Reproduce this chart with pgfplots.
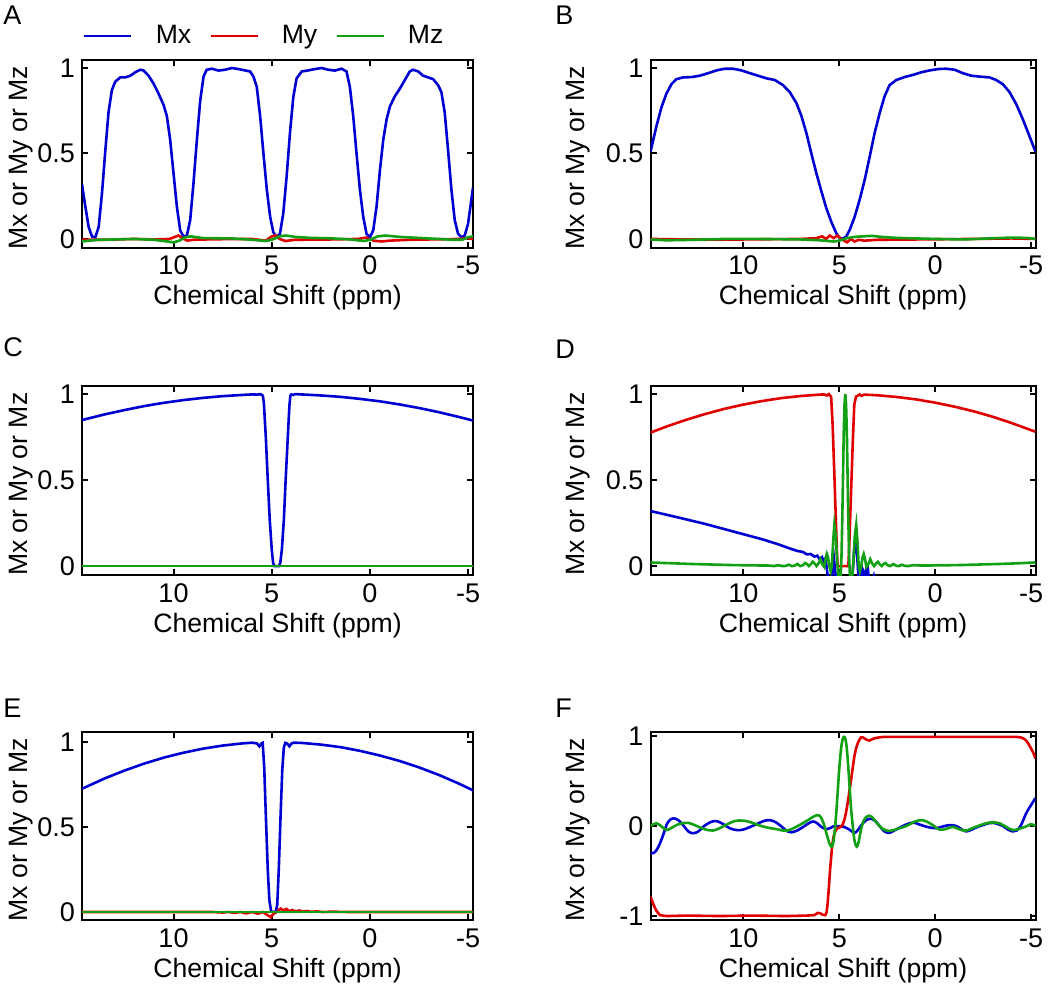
\documentclass[border=0pt]{standalone}
\usepackage{graphicx}
\usepackage{pgfplots}
\pgfplotsset{compat=1.18}
\usepackage{fontspec}
\setmainfont{Liberation Sans}
\definecolor{mxblue}{RGB}{0,0,210}
\definecolor{myred}{RGB}{225,0,0}
\definecolor{mzgreen}{RGB}{20,160,20}
\newcommand{\lab}{\fontsize{13.3}{16}\selectfont}
\newcommand{\plet}[1]{\scalebox{1.35}{\normalsize #1}}
\pgfplotsset{
 panel/.style={
  scale only axis, x dir=reverse,
  axis line style={line width=1pt},
  tick style={black, line width=1pt},
  major tick length=3pt,
  tick align=inside,
  xtick={10,5,0,-5}, xticklabels={10,5,0,-5},
  ytick={0,0.5,1}, yticklabels={0,0.5,1},
  tick label style={font=\fontsize{13.5}{16}\selectfont},
  every axis x label/.style={at={(axis description cs:0.5,0)}, anchor=base, yshift=-28.5pt},
  xticklabel style={anchor=base, yshift=-13.5pt},
  xlabel={\lab Chemical Shift (ppm)},
  ylabel={\lab Mx or My or Mz},
  every axis plot/.append style={line width=1.3pt, mark=none},
 },
 leftp/.style={panel, width=195.5pt, xmin=-5.25, xmax=14.66,
  every axis y label/.style={at={(axis description cs:-0.156,0.48)}, rotate=90, anchor=center}},
 rightp/.style={panel, width=192.5pt, xmin=-5.23, xmax=14.85,
  every axis y label/.style={at={(axis description cs:-0.187,0.48)}, rotate=90, anchor=center}},
}
\begin{document}
\begin{tikzpicture}
\path[use as bounding box] (0,0) rectangle (525pt,-492pt);
\node[anchor=base west, inner sep=0pt] at (1.5pt,-12.5pt) {\plet{A}};
\node[anchor=base west, inner sep=0pt] at (277.5pt,-12.5pt) {\plet{B}};
\node[anchor=base west, inner sep=0pt] at (1.5pt,-178.5pt) {\plet{C}};
\node[anchor=base west, inner sep=0pt] at (277.5pt,-179pt) {\plet{D}};
\node[anchor=base west, inner sep=0pt] at (1.5pt,-358.5pt) {\plet{E}};
\node[anchor=base west, inner sep=0pt] at (277.5pt,-358.5pt) {\plet{F}};

% ---------------- A ----------------
\begin{axis}[leftp, at={(41pt,-30pt)}, anchor=north west, height=94pt,
  ymin=-0.053, ymax=1.047,
  legend style={at={(axis description cs:0.003,1.128)}, anchor=west, draw=none, fill=none,
    inner sep=0pt, outer sep=0pt,
    nodes={inner sep=0pt},
    legend columns=-1, font=\fontsize{13.3}{16}\selectfont,
    /tikz/every odd column/.append style={column sep=11.5pt},
    /tikz/every even column/.append style={column sep=9pt}},
  legend image code/.code={\draw[#1] (0pt,0pt) -- (23.5pt,0pt);}]
\addplot[mxblue] coordinates {(14.66,0.32) (14.49,0.19) (14.32,0.07) (14.15,0.014) (13.98,0.01) (13.81,0.07) (13.64,0.27) (13.47,0.52) (13.31,0.74) (13.14,0.87) (12.97,0.92) (12.71,0.945) (12.46,0.945) (12.2,0.955) (11.95,0.975) (11.69,0.99) (11.53,0.986) (11.27,0.955) (11.02,0.91) (10.76,0.85) (10.51,0.785) (10.34,0.72) (10.17,0.58) (10.0,0.385) (9.83,0.19) (9.66,0.05) (9.49,0.014) (9.32,0.02) (9.15,0.11) (8.98,0.33) (8.81,0.58) (8.64,0.81) (8.47,0.95) (8.31,0.99) (8.05,0.996) (7.71,0.985) (7.37,0.99) (7.03,1.0) (6.69,0.994) (6.36,0.986) (6.1,0.98) (5.93,0.95) (5.76,0.89) (5.59,0.72) (5.42,0.50) (5.25,0.29) (5.08,0.13) (4.92,0.04) (4.75,0.01) (4.58,0.03) (4.41,0.15) (4.24,0.365) (4.07,0.62) (3.9,0.83) (3.73,0.94) (3.47,0.98) (3.14,0.986) (2.8,0.994) (2.46,1.0) (2.12,0.99) (1.78,0.985) (1.44,0.996) (1.19,0.98) (1.02,0.89) (0.85,0.72) (0.68,0.50) (0.51,0.29) (0.34,0.13) (0.17,0.03) (0.0,0.01) (-0.17,0.05) (-0.34,0.19) (-0.51,0.40) (-0.68,0.58) (-0.85,0.70) (-1.02,0.775) (-1.27,0.835) (-1.53,0.88) (-1.78,0.93) (-2.03,0.98) (-2.2,0.99) (-2.46,0.98) (-2.71,0.955) (-2.97,0.945) (-3.22,0.935) (-3.47,0.90) (-3.64,0.86) (-3.81,0.74) (-3.98,0.52) (-4.15,0.29) (-4.32,0.11) (-4.49,0.03) (-4.66,0.01) (-4.83,0.02) (-5.0,0.09) (-5.12,0.19) (-5.25,0.30)};
\addlegendentry{Mx}
\addplot[myred] coordinates {(14.66,-0.005) (13.5,-0.005) (12.0,0.0) (11.0,-0.003) (10.2,0.0) (9.75,0.02) (9.55,0.005) (9.3,-0.01) (9.0,-0.005) (8.0,-0.002) (6.0,0.0) (5.3,-0.01) (5.0,0.015) (4.8,0.02) (4.6,0.0) (4.3,-0.012) (3.8,-0.005) (2.0,-0.003) (0.6,0.0) (0.2,0.008) (-0.2,-0.01) (-0.6,-0.015) (-1.0,-0.01) (-2.0,-0.005) (-3.5,-0.002) (-4.6,0.0) (-4.9,0.005) (-5.25,0.0)};
\addlegendentry{My}
\addplot[mzgreen] coordinates {(14.66,-0.015) (14.3,-0.01) (13.8,-0.005) (13.0,-0.003) (12.0,0.0) (11.0,-0.005) (10.3,-0.015) (10.0,-0.02) (9.7,-0.01) (9.4,0.01) (9.1,0.015) (8.5,0.005) (7.0,0.003) (6.0,-0.005) (5.3,-0.012) (5.0,-0.005) (4.6,0.015) (4.3,0.02) (3.8,0.012) (3.0,0.006) (2.0,0.004) (1.0,-0.003) (0.3,-0.012) (0.0,-0.005) (-0.4,0.015) (-0.8,0.02) (-1.5,0.012) (-2.5,0.006) (-3.5,0.0) (-4.2,-0.005) (-4.7,-0.005) (-5.0,0.01) (-5.25,0.015)};
\addlegendentry{Mz}
\end{axis}

% ---------------- B ----------------
\begin{axis}[rightp, at={(325.25pt,-30pt)}, anchor=north west, height=94pt,
  ymin=-0.053, ymax=1.047]
\addplot[mxblue] coordinates {(14.85,0.51) (14.54,0.66) (14.28,0.77) (14.02,0.85) (13.76,0.905) (13.5,0.935) (13.15,0.945) (12.71,0.947) (12.28,0.955) (11.84,0.97) (11.41,0.986) (10.98,0.996) (10.54,0.996) (10.11,0.986) (9.67,0.97) (9.24,0.955) (8.81,0.94) (8.37,0.93) (7.94,0.90) (7.59,0.86) (7.24,0.795) (6.98,0.72) (6.72,0.62) (6.46,0.50) (6.2,0.385) (5.94,0.28) (5.68,0.18) (5.42,0.10) (5.16,0.033) (4.98,0.004) (4.81,0.002) (4.64,0.014) (4.46,0.053) (4.2,0.13) (3.94,0.23) (3.68,0.345) (3.42,0.48) (3.16,0.62) (2.9,0.735) (2.64,0.835) (2.38,0.90) (2.03,0.93) (1.6,0.947) (1.16,0.96) (0.73,0.975) (0.29,0.986) (-0.14,0.994) (-0.57,0.996) (-1.01,0.99) (-1.44,0.97) (-1.88,0.955) (-2.31,0.95) (-2.83,0.945) (-3.18,0.93) (-3.53,0.905) (-3.87,0.86) (-4.22,0.79) (-4.57,0.70) (-4.92,0.60) (-5.23,0.51)};
\addplot[myred] coordinates {(14.85,0.0) (13.0,-0.003) (10.0,-0.003) (7.0,0.0) (6.2,0.005) (5.9,0.015) (5.7,0.0) (5.5,0.02) (5.3,0.005) (5.1,0.02) (4.9,0.0) (4.6,-0.02) (4.4,0.0) (4.2,-0.015) (4.0,-0.005) (3.7,-0.01) (3.0,-0.005) (1.0,-0.003) (-2.0,0.0) (-4.0,0.003) (-5.23,0.0)};
\addplot[mzgreen] coordinates {(14.85,-0.003) (14.0,-0.008) (13.0,-0.006) (11.0,0.0) (9.0,0.0) (7.0,-0.003) (6.0,-0.008) (5.3,-0.015) (5.0,-0.01) (4.6,0.005) (4.2,0.012) (3.8,0.015) (3.3,0.018) (2.8,0.012) (2.0,0.006) (0.0,0.0) (-1.5,-0.003) (-3.0,0.004) (-4.0,0.008) (-4.8,0.006) (-5.23,0.0)};
\end{axis}

% ---------------- C ----------------
\begin{axis}[leftp, at={(41pt,-193pt)}, anchor=north west, height=94.5pt,
  ymin=-0.052, ymax=1.047]
\addplot[mxblue] coordinates {(14.66,0.849) (13.5,0.882) (12.5,0.907) (11.5,0.930) (10.5,0.949) (9.5,0.965) (8.5,0.978) (7.5,0.988) (6.5,0.995) (6.0,0.998) (5.7,0.997) (5.6,1.0) (5.5,0.995) (5.45,0.99) (5.4,0.95) (5.3,0.75) (5.2,0.5) (5.1,0.27) (5.0,0.1) (4.93,0.02) (4.87,0.0) (4.62,0.0) (4.56,0.02) (4.48,0.1) (4.38,0.27) (4.29,0.5) (4.18,0.75) (4.1,0.93) (4.05,0.99) (4.0,0.998) (3.9,0.995) (3.8,1.0) (3.5,0.998) (2.5,0.992) (1.5,0.984) (0.5,0.972) (-0.5,0.958) (-1.5,0.94) (-2.5,0.919) (-3.5,0.895) (-4.5,0.868) (-5.25,0.846)};
\addplot[myred] coordinates {(14.66,0) (-5.25,0)};
\addplot[mzgreen] coordinates {(14.66,0) (-5.25,0)};
\end{axis}

% ---------------- D ----------------
\begin{axis}[rightp, at={(325.25pt,-193pt)}, anchor=north west, height=94.5pt,
  ymin=-0.052, ymax=1.047]
\addplot[mxblue] coordinates {(14.85,0.32) (13.5,0.285) (12.0,0.245) (10.5,0.2) (9.0,0.155) (8.2,0.127) (7.7,0.107) (7.2,0.088) (6.9,0.082) (6.7,0.068) (6.5,0.07) (6.3,0.055) (6.15,0.06) (6.0,0.035) (5.9,0.05) (5.8,0.02) (5.72,0.045) (5.65,-0.02) (5.55,-0.1) (5.45,-0.12) (5.35,-0.03) (5.28,0.04) (5.2,-0.05) (5.1,-0.15) (4.95,-0.2) (4.8,-0.15) (4.6,-0.2) (4.45,-0.12) (4.3,-0.03) (4.2,0.14) (4.12,0.14) (4.05,0.02) (3.98,-0.1) (3.9,-0.08) (3.82,-0.01) (3.75,-0.03) (3.68,-0.1) (3.6,-0.02) (3.52,-0.01) (3.45,-0.08) (3.3,-0.1) (3.2,-0.06) (3.1,-0.12) (2.5,-0.14) (0.0,-0.22) (-5.23,-0.32)};
\addplot[myred] coordinates {(14.85,0.776) (14.0,0.812) (13.0,0.850) (12.0,0.884) (11.0,0.914) (10.0,0.939) (9.0,0.960) (8.0,0.977) (7.0,0.989) (6.0,0.997) (5.8,0.998) (5.65,0.992) (5.55,1.0) (5.48,0.99) (5.43,0.985) (5.35,0.82) (5.26,0.53) (5.17,0.23) (5.12,0.06) (5.09,0.0) (4.53,0.0) (4.48,0.13) (4.39,0.43) (4.30,0.72) (4.22,0.94) (4.13,0.985) (4.05,0.99) (3.95,0.998) (3.85,0.99) (3.7,0.997) (3.0,0.993) (2.0,0.983) (1.0,0.969) (0.0,0.950) (-1.0,0.927) (-2.0,0.900) (-3.0,0.868) (-4.0,0.831) (-5.23,0.781)};
\addplot[mzgreen] coordinates {(14.85,0.021) (13.69,0.016) (12.69,0.012) (11.69,0.009) (10.69,0.006) (9.69,0.004) (8.69,0.003) (8.39,0.0) (8.19,0.005) (7.99,0.0) (7.79,0.001) (7.64,0.008) (7.49,0.0) (7.34,0.002) (7.19,0.012) (7.04,0.0) (6.89,0.005) (6.79,0.018) (6.69,0.012) (6.59,0.0) (6.49,0.01) (6.39,0.025) (6.29,0.015) (6.19,0.0) (6.09,0.015) (5.99,0.04) (5.89,0.01) (5.79,-0.005) (5.72,0.04) (5.65,0.07) (5.59,0.05) (5.52,0.0) (5.45,-0.03) (5.39,0.0) (5.32,0.15) (5.26,0.24) (5.19,0.18) (5.11,0.02) (5.04,-0.08) (4.99,-0.11) (4.94,-0.08) (4.89,0.05) (4.85,0.26) (4.81,0.52) (4.77,0.78) (4.73,0.94) (4.69,1.0) (4.65,0.94) (4.61,0.78) (4.57,0.52) (4.53,0.26) (4.49,0.05) (4.44,-0.08) (4.39,-0.11) (4.34,-0.08) (4.27,0.02) (4.19,0.18) (4.12,0.24) (4.06,0.15) (3.99,0.0) (3.93,-0.03) (3.86,0.0) (3.79,0.05) (3.73,0.07) (3.66,0.04) (3.59,-0.005) (3.49,0.01) (3.39,0.04) (3.29,0.015) (3.19,0.0) (3.09,0.015) (2.99,0.025) (2.89,0.01) (2.79,0.0) (2.69,0.012) (2.59,0.018) (2.49,0.005) (2.34,0.0) (2.19,0.012) (2.04,0.002) (1.89,0.0) (1.74,0.008) (1.59,0.001) (1.39,0.0) (1.19,0.005) (0.69,0.003) (-0.31,0.004) (-1.31,0.006) (-2.31,0.009) (-3.31,0.012) (-4.31,0.016) (-5.23,0.021)};
\end{axis}

% ---------------- E ----------------
\begin{axis}[leftp, at={(41pt,-366pt)}, anchor=north west, height=94pt,
  ymin=-0.047, ymax=1.059]
\addplot[mxblue] coordinates {(14.66,0.725) (13.5,0.786) (12.5,0.832) (11.5,0.873) (10.5,0.908) (9.5,0.937) (8.5,0.961) (7.5,0.979) (6.5,0.992) (6.0,0.996) (5.75,0.992) (5.63,0.975) (5.54,0.99) (5.46,0.995) (5.38,0.85) (5.29,0.54) (5.2,0.25) (5.12,0.07) (5.03,0.005) (4.95,0.0) (4.8,0.0) (4.72,0.04) (4.64,0.25) (4.55,0.56) (4.46,0.84) (4.38,0.97) (4.3,0.995) (4.2,0.99) (4.1,0.975) (4.0,0.99) (3.9,0.996) (3.5,0.995) (2.5,0.985) (1.5,0.970) (0.5,0.948) (-0.5,0.921) (-1.5,0.889) (-2.5,0.851) (-3.5,0.807) (-4.5,0.757) (-5.25,0.716)};
\addplot[myred] coordinates {(14.66,0.0) (8.0,0.0) (7.5,-0.003) (7.2,0.0) (6.9,-0.005) (6.6,0.0) (6.3,-0.008) (6.0,0.0) (5.7,-0.01) (5.45,0.0) (5.25,-0.015) (5.05,-0.03) (4.9,-0.01) (4.75,0.0) (4.55,0.02) (4.4,0.01) (4.25,0.018) (4.1,0.005) (3.95,0.012) (3.8,0.003) (3.6,0.009) (3.4,0.002) (3.2,0.006) (3.0,0.001) (2.7,0.004) (2.4,0.0) (2.0,0.002) (1.0,0.0) (-5.25,0.0)};
\addplot[mzgreen] coordinates {(14.66,0) (-5.25,0)};
\end{axis}

% ---------------- F ----------------
\begin{axis}[rightp, at={(325.25pt,-366pt)}, anchor=north west, height=94pt,
  ymin=-1.044, ymax=1.044, ytick={-1,0,1}, yticklabels={-1,0,1}]
\addplot[mxblue, smooth, tension=0.6] coordinates {(14.85,-0.3) (14.7,-0.3) (14.54,-0.27) (14.37,-0.2) (14.19,-0.1) (13.95,0.04) (13.67,0.085) (13.4,0.065) (13.15,0.01) (12.88,-0.06) (12.63,-0.08) (12.35,-0.06) (12.11,-0.01) (11.75,0.04) (11.41,0.055) (11.05,0.02) (10.72,-0.025) (10.35,-0.045) (10.02,-0.04) (9.65,-0.01) (9.33,0.02) (8.95,0.055) (8.63,0.065) (8.3,0.04) (7.94,-0.02) (7.7,-0.06) (7.5,-0.07) (7.2,-0.05) (6.89,-0.01) (6.6,0.03) (6.37,0.05) (6.15,0.03) (5.94,-0.01) (5.68,-0.035) (5.5,-0.025) (5.33,-0.005) (5.15,0.0) (4.98,-0.003) (4.75,-0.01) (4.55,-0.03) (4.35,-0.06) (4.2,-0.075) (4.05,-0.05) (3.85,0.01) (3.6,0.065) (3.33,0.08) (3.1,0.05) (2.9,0.0) (2.65,-0.06) (2.38,-0.075) (2.05,-0.04) (1.68,0.0) (1.35,0.03) (1.07,0.035) (0.8,0.015) (0.5,-0.005) (0.2,-0.02) (-0.05,-0.025) (-0.4,-0.005) (-0.75,0.01) (-1.1,0.0) (-1.4,-0.04) (-1.62,-0.06) (-1.9,-0.04) (-2.2,-0.01) (-2.49,0.01) (-2.75,0.03) (-3.01,0.035) (-3.3,0.02) (-3.53,0.0) (-3.8,-0.04) (-4.05,-0.06) (-4.25,-0.05) (-4.45,0.0) (-4.6,0.07) (-4.74,0.14) (-4.9,0.2) (-5.05,0.25) (-5.23,0.31)};
\addplot[myred] coordinates {(14.85,-0.785) (14.7,-0.87) (14.55,-0.94) (14.36,-0.99) (14.02,-1.0) (12.97,-0.995) (11.24,-1.0) (9.5,-0.995) (7.76,-1.0) (6.72,-0.995) (6.3,-0.99) (6.13,-0.965) (6.0,-0.97) (5.87,-0.985) (5.73,-0.99) (5.67,-0.96) (5.62,-0.88) (5.57,-0.75) (5.52,-0.6) (5.47,-0.45) (5.42,-0.33) (5.38,-0.23) (5.32,-0.14) (5.26,-0.08) (5.17,-0.04) (5.09,-0.026) (4.91,-0.007) (4.82,0.02) (4.74,0.067) (4.66,0.14) (4.57,0.25) (4.48,0.38) (4.39,0.51) (4.3,0.65) (4.22,0.77) (4.13,0.86) (4.04,0.92) (3.95,0.96) (3.87,0.985) (3.78,0.985) (3.7,0.974) (3.55,0.955) (3.43,0.95) (3.3,0.962) (3.17,0.974) (2.9,0.985) (2.65,0.99) (0.0,0.99) (-2.0,0.99) (-4.2,0.99) (-4.45,0.985) (-4.62,0.97) (-4.74,0.95) (-4.87,0.91) (-5.0,0.86) (-5.12,0.81) (-5.23,0.75)};
\addplot[mzgreen, smooth, tension=0.6] coordinates {(14.85,0.0) (14.7,0.02) (14.54,0.03) (14.3,0.0) (14.02,-0.045) (13.75,-0.02) (13.5,0.01) (13.2,0.03) (12.89,0.035) (12.6,0.015) (12.28,-0.015) (11.95,-0.04) (11.58,-0.05) (11.2,-0.02) (10.89,0.015) (10.45,0.055) (10.02,0.06) (9.6,0.04) (9.15,0.005) (8.7,-0.02) (8.28,-0.035) (7.95,-0.05) (7.7,-0.05) (7.35,-0.02) (7.0,0.02) (6.6,0.07) (6.3,0.11) (6.08,0.12) (5.92,0.08) (5.78,0.0) (5.65,-0.1) (5.52,-0.19) (5.42,-0.23) (5.33,-0.2) (5.25,-0.07) (5.17,0.12) (5.08,0.4) (5.0,0.65) (4.91,0.86) (4.83,0.96) (4.76,0.99) (4.69,0.97) (4.62,0.88) (4.55,0.7) (4.47,0.45) (4.39,0.2) (4.3,0.0) (4.22,-0.15) (4.13,-0.22) (4.05,-0.22) (3.96,-0.14) (3.87,-0.04) (3.75,0.05) (3.6,0.1) (3.45,0.115) (3.3,0.1) (3.07,0.04) (2.75,-0.03) (2.38,-0.055) (1.95,-0.03) (1.51,0.0) (1.05,0.05) (0.64,0.065) (0.2,0.02) (-0.23,-0.04) (-0.6,-0.03) (-0.92,-0.01) (-1.3,-0.04) (-1.62,-0.05) (-2.1,-0.01) (-2.66,0.03) (-3.0,0.04) (-3.35,0.03) (-3.7,-0.01) (-4.05,-0.045) (-4.4,-0.03) (-4.74,-0.005) (-5.0,0.02) (-5.23,0.0)};
\end{axis}
\end{tikzpicture}
\end{document}
